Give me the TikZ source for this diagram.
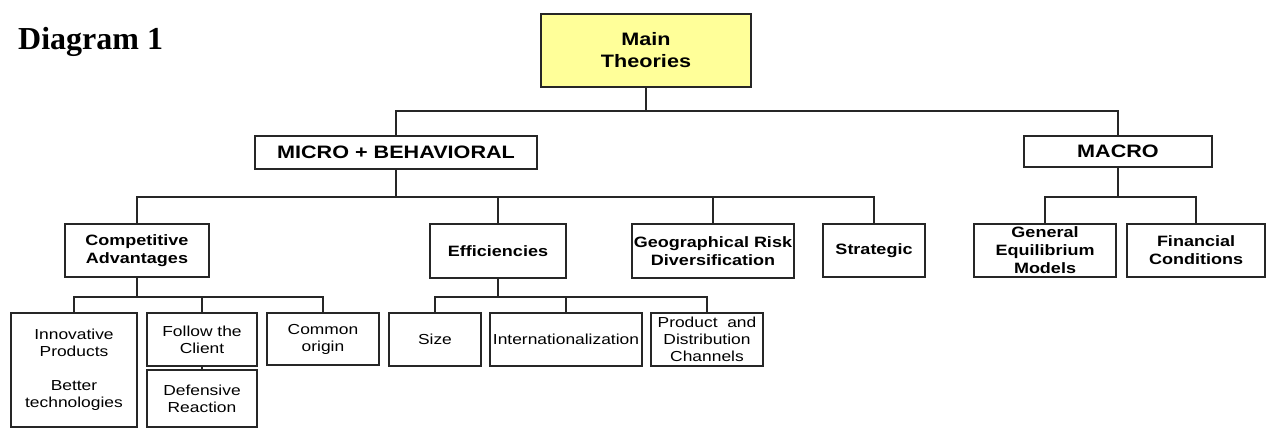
\documentclass[tikz,border=0pt]{standalone}
\usepackage{fontspec}
\setmainfont{Liberation Sans}[FakeStretch=1.2]
\newfontfamily\titlefont{Liberation Serif}
\usetikzlibrary{positioning}

\tikzset{
  box/.style={draw=black!85, line width=1.5pt, align=center, inner sep=1pt,
    font=\fontsize{14.5}{17}\selectfont},
  bbox/.style={box, font=\fontsize{15}{18}\selectfont\bfseries},
  topbox/.style={box, font=\fontsize{18}{22}\selectfont\bfseries},
  link/.style={draw=black!85, line width=1.6pt}
}

\begin{document}
\begin{tikzpicture}[x=1pt,y=-1pt]
\useasboundingbox (0,0) rectangle (1267,428);
\node[anchor=base west, inner sep=0pt, font=\titlefont\fontsize{32}{34}\selectfont\bfseries](title) at (18,50){Diagram 1};
\node[topbox, fill={rgb,255:red,255;green,255;blue,153}, minimum width=210pt, minimum height=73pt](main) at (646,50.5){Main\\Theories};
\node[topbox, minimum width=282pt, minimum height=33pt](micro) at (396,152.5){MICRO + BEHAVIORAL};
\node[topbox, minimum width=188pt, minimum height=31pt](macro) at (1118,151.5){MACRO};
\node[bbox, minimum width=144pt, minimum height=53pt](comp) at (137,250.5){Competitive\\Advantages};
\node[bbox, minimum width=136pt, minimum height=54pt](eff) at (498,251){Efficiencies};
\node[bbox, minimum width=162pt, minimum height=54pt](geo) at (713,251){Geographical Risk\\Diversification};
\node[bbox, minimum width=102pt, minimum height=53pt](strat) at (874,250.5){Strategic};
\node[bbox, minimum width=142pt, minimum height=53pt](geneq) at (1045,250.5){General\\Equilibrium\\Models};
\node[bbox, minimum width=138pt, minimum height=53pt](fin) at (1196,250.5){Financial\\Conditions};
\node[box, minimum width=126pt, minimum height=114pt](innov) at (74,370){Innovative\\Products\\[17pt]Better\\technologies};
\node[box, minimum width=110pt, minimum height=53pt](follow) at (202,339.5){Follow the\\Client};
\node[box, minimum width=110pt, minimum height=57pt, below=2.5pt of follow](defens){Defensive\\Reaction};
\node[box, minimum width=112pt, minimum height=52pt](common) at (323,339){Common\\origin};
\node[box, minimum width=92pt, minimum height=53pt](size) at (435,339.5){Size};
\node[box, minimum width=152pt, minimum height=53pt](intl) at (566,339.5){Internationalization};
\node[box, minimum width=112pt, minimum height=53pt](prod) at (707,339.5){Product~~and\\Distribution\\Channels};
% top level
\path[link] (main.south) -- ++(0,23) coordinate(m1) -| (micro.north);
\path[link] (m1) -| (macro.north);
% micro
\path[link] (micro.south) -- ++(0,27) coordinate(m2) -| (comp.north);
\path[link] (m2) -| (eff.north);
\path[link] (m2) -| (geo.north);
\path[link] (m2) -| (strat.north);
% macro
\path[link] (macro.south) -- ++(0,29) coordinate(m3) -| (geneq.north);
\path[link] (m3) -| (fin.north);
% competitive advantages
\path[link] (comp.south) -- ++(0,19) coordinate(m4) -| (innov.north);
\path[link] (m4) -| (follow.north);
\path[link] (m4) -| (common.north);
\path[link] (follow.south) -- (defens.north);
% efficiencies
\path[link] (eff.south) -- ++(0,18) coordinate(m5) -| (size.north);
\path[link] (m5) -| (intl.north);
\path[link] (m5) -| (prod.north);
\end{tikzpicture}
\end{document}
